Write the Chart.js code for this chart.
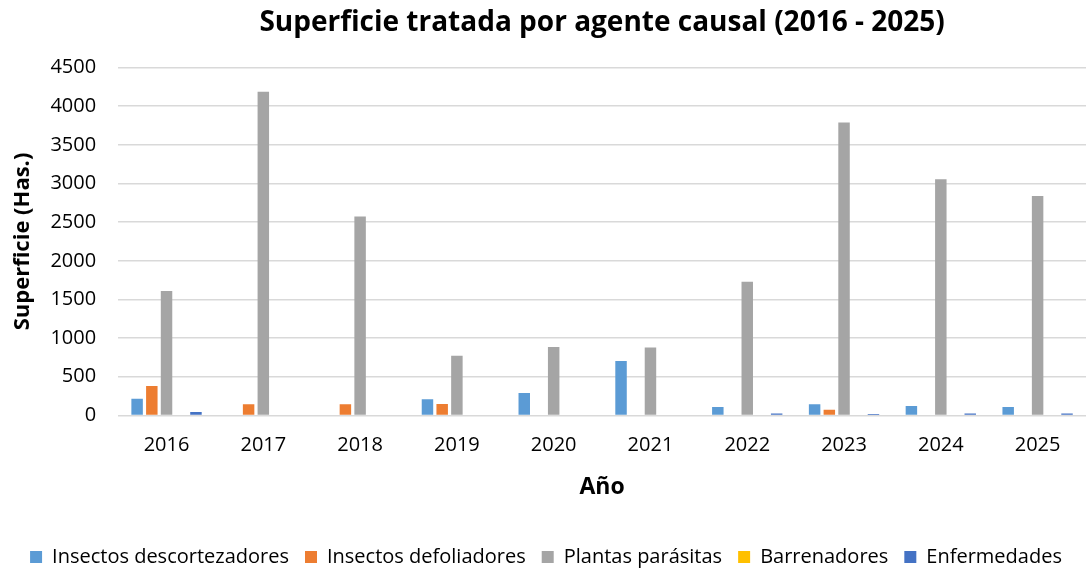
<!DOCTYPE html>
<html>
<head>
<meta charset="utf-8">
<script src="https://cdn.jsdelivr.net/npm/chart.js@4"></script>
<style>
  html, body { margin: 0; padding: 0; background: #fff; }
  #wrap { width: 1088px; height: 569px; }
</style>
</head>
<body>
<div id="wrap"><canvas id="myChart" width="1088" height="569"></canvas></div>
<script>
// years on the x axis
const years = ["2016", "2017", "2018", "2019", "2020", "2021", "2022", "2023", "2024", "2025"];

// superficie tratada (Has.) per agent
const descortezadores = [215, 0, 0, 210, 290, 705, 110, 145, 122, 110];
const defoliadores = [382, 143, 145, 148, 0, 0, 0, 74, 0, 0];
const parasitas = [1608, 4187, 2574, 773, 886, 877, 1730, 3790, 3056, 2838];
const barrenadores = [0, 0, 0, 0, 0, 0, 0, 0, 0, 0];
const enfermedades = [43, 0, 0, 0, 0, 0, 26, 17, 26, 26];

const yTicks = [0, 500, 1000, 1500, 2000, 2500, 3000, 3500, 4000, 4500];

const font = "'Open Sans', 'Noto Sans', sans-serif";

function makeSet(label, data, color) {
  return {
    label: label,
    data: data,
    backgroundColor: color,
    borderWidth: 0,
    categoryPercentage: 0.76,
    barPercentage: 0.78
  };
}

function initChart(target) {
  const data = {
    labels: years,
    datasets: [
      makeSet("Insectos descortezadores", descortezadores, "#5B9BD5"),
      makeSet("Insectos defoliadores", defoliadores, "#ED7D31"),
      makeSet("Plantas parásitas", parasitas, "#A5A5A5"),
      makeSet("Barrenadores", barrenadores, "#FFC000"),
      makeSet("Enfermedades", enfermedades, "#4472C4")
    ]
  };

  const config = {
    type: "bar",
    data: data,
    options: {
      responsive: false,
      animation: false,
      layout: { padding: { left: 6, right: 2, top: 4, bottom: -8 } },
      plugins: {
        title: {
          display: true,
          fullSize: false,
          text: "Superficie tratada por agente causal (2016 - 2025)",
          color: "#000",
          font: { family: font, size: 28, weight: "bold" },
          padding: { top: 2, bottom: 28 }
        },
        legend: {
          position: "bottom",
          labels: {
            color: "#000",
            font: { family: font, size: 20 },
            boxWidth: 12,
            boxHeight: 12,
            padding: 16
          }
        },
        tooltip: { enabled: false }
      },
      scales: {
        x: {
          grid: { display: false },
          border: { display: false },
          ticks: { color: "#000", font: { family: font, size: 20 }, padding: 10 },
          title: {
            display: true,
            text: "Año",
            color: "#000",
            font: { family: font, size: 23, weight: "bold" },
            padding: { top: 6, bottom: 30 }
          }
        },
        y: {
          min: 0,
          max: 4500,
          afterBuildTicks: (axis) => { axis.ticks = yTicks.map((v) => ({ value: v })); },
          grid: { color: "#d9d9d9", lineWidth: 1.5, drawTicks: false },
          border: { display: false },
          ticks: {
            color: "#000",
            font: { family: font, size: 20 },
            padding: 22,
            callback: (value) => String(value)
          },
          title: {
            display: true,
            text: "Superficie (Has.)",
            color: "#000",
            font: { family: font, size: 22, weight: "bold" },
            padding: { top: 4, bottom: -8 }
          }
        }
      }
    }
  };

  return new Chart(target, config);
}

document.addEventListener("DOMContentLoaded", () => {
  initChart(document.querySelector("#myChart"));
});
</script>
</body>
</html>
